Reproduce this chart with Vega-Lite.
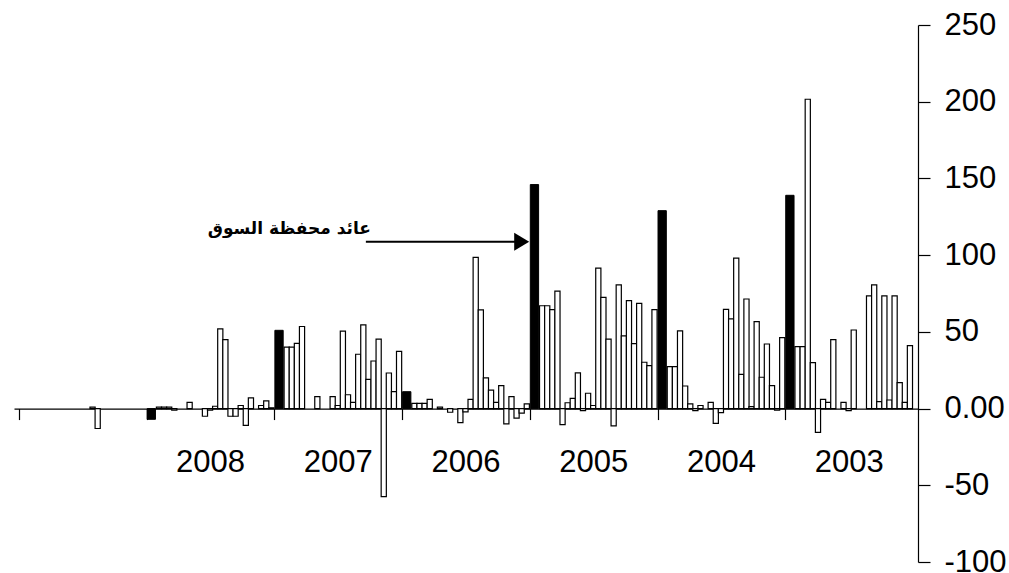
{
  "$schema": "https://vega.github.io/schema/vega-lite/v6.json",
  "autosize": {"type": "none"},
  "width": 904,
  "height": 537,
  "padding": {"left": 14, "top": 25, "right": 91, "bottom": 11},
  "background": "white",
  "config": {
    "view": {"stroke": null},
    "axisX": {"title": null, "grid": false, "labels": false, "offset": -153.43, "tickSize": 11, "domainColor": "black", "tickColor": "black", "domainWidth": 1.2, "tickWidth": 1.2},
    "axisY": {"title": null, "grid": false, "tickSize": 12, "labelPadding": 14, "labelFontSize": 31, "labelFont": "Liberation Sans", "labelColor": "black", "domainColor": "black", "tickColor": "black", "domainWidth": 1.2, "tickWidth": 1.2}
  },
  "datasets": {
    "bars": [
      {"year": "2009", "type": "stock", "i": 14, "r": 1},
      {"year": "2009", "type": "stock", "i": 15, "r": -13},
      {"year": "2008", "type": "market", "i": 25.5, "r": -7},
      {"year": "2008", "type": "stock", "i": 27, "r": 1},
      {"year": "2008", "type": "stock", "i": 28, "r": 1},
      {"year": "2008", "type": "stock", "i": 29, "r": 1},
      {"year": "2008", "type": "stock", "i": 30, "r": -1},
      {"year": "2008", "type": "stock", "i": 33, "r": 4},
      {"year": "2008", "type": "stock", "i": 36, "r": -5},
      {"year": "2008", "type": "stock", "i": 37, "r": -1},
      {"year": "2008", "type": "stock", "i": 38, "r": 1.5},
      {"year": "2008", "type": "stock", "i": 39, "r": 52},
      {"year": "2008", "type": "stock", "i": 40, "r": 45},
      {"year": "2008", "type": "stock", "i": 41, "r": -5},
      {"year": "2008", "type": "stock", "i": 42, "r": -5},
      {"year": "2008", "type": "stock", "i": 43, "r": 2},
      {"year": "2008", "type": "stock", "i": 44, "r": -11},
      {"year": "2008", "type": "stock", "i": 45, "r": 7},
      {"year": "2008", "type": "stock", "i": 47, "r": 2},
      {"year": "2008", "type": "stock", "i": 48, "r": 5},
      {"year": "2008", "type": "stock", "i": 49, "r": 0.5},
      {"year": "2007", "type": "market", "i": 50.5, "r": 51},
      {"year": "2007", "type": "stock", "i": 52, "r": 40},
      {"year": "2007", "type": "stock", "i": 53, "r": 40},
      {"year": "2007", "type": "stock", "i": 54, "r": 42.5},
      {"year": "2007", "type": "stock", "i": 55, "r": 53.5},
      {"year": "2007", "type": "stock", "i": 58, "r": 7.8},
      {"year": "2007", "type": "stock", "i": 61, "r": 7.8},
      {"year": "2007", "type": "stock", "i": 62, "r": 2},
      {"year": "2007", "type": "stock", "i": 63, "r": 50.5},
      {"year": "2007", "type": "stock", "i": 64, "r": 9},
      {"year": "2007", "type": "stock", "i": 65, "r": 4},
      {"year": "2007", "type": "stock", "i": 66, "r": 35.4},
      {"year": "2007", "type": "stock", "i": 67, "r": 54.5},
      {"year": "2007", "type": "stock", "i": 68, "r": 19},
      {"year": "2007", "type": "stock", "i": 69, "r": 31},
      {"year": "2007", "type": "stock", "i": 70, "r": 45.2},
      {"year": "2007", "type": "stock", "i": 71, "r": -57.4},
      {"year": "2007", "type": "stock", "i": 72, "r": 23.2},
      {"year": "2007", "type": "stock", "i": 73, "r": 11},
      {"year": "2007", "type": "stock", "i": 74, "r": 37.3},
      {"year": "2006", "type": "market", "i": 75.5, "r": 11},
      {"year": "2006", "type": "stock", "i": 77, "r": 3.4},
      {"year": "2006", "type": "stock", "i": 78, "r": 3.4},
      {"year": "2006", "type": "stock", "i": 79, "r": 3.4},
      {"year": "2006", "type": "stock", "i": 80, "r": 6},
      {"year": "2006", "type": "stock", "i": 82, "r": 1},
      {"year": "2006", "type": "stock", "i": 84, "r": -2.4},
      {"year": "2006", "type": "stock", "i": 86, "r": -9.2},
      {"year": "2006", "type": "stock", "i": 87, "r": -2.2},
      {"year": "2006", "type": "stock", "i": 88, "r": 6},
      {"year": "2006", "type": "stock", "i": 89, "r": 98.6},
      {"year": "2006", "type": "stock", "i": 90, "r": 64.3},
      {"year": "2006", "type": "stock", "i": 91, "r": 20},
      {"year": "2006", "type": "stock", "i": 92, "r": 12},
      {"year": "2006", "type": "stock", "i": 93, "r": 4},
      {"year": "2006", "type": "stock", "i": 94, "r": 15},
      {"year": "2006", "type": "stock", "i": 95, "r": -10},
      {"year": "2006", "type": "stock", "i": 96, "r": 7.8},
      {"year": "2006", "type": "stock", "i": 97, "r": -6.2},
      {"year": "2006", "type": "stock", "i": 98, "r": -3},
      {"year": "2006", "type": "stock", "i": 99, "r": 3},
      {"year": "2005", "type": "market", "i": 100.5, "r": 146},
      {"year": "2005", "type": "stock", "i": 102, "r": 67},
      {"year": "2005", "type": "stock", "i": 103, "r": 67},
      {"year": "2005", "type": "stock", "i": 104, "r": 64.5},
      {"year": "2005", "type": "stock", "i": 105, "r": 76.5},
      {"year": "2005", "type": "stock", "i": 106, "r": -10.5},
      {"year": "2005", "type": "stock", "i": 107, "r": 3.8},
      {"year": "2005", "type": "stock", "i": 108, "r": 6.7},
      {"year": "2005", "type": "stock", "i": 109, "r": 23.3},
      {"year": "2005", "type": "stock", "i": 110, "r": -1.4},
      {"year": "2005", "type": "stock", "i": 111, "r": 10},
      {"year": "2005", "type": "stock", "i": 112, "r": 2},
      {"year": "2005", "type": "stock", "i": 113, "r": 91.5},
      {"year": "2005", "type": "stock", "i": 114, "r": 72.5},
      {"year": "2005", "type": "stock", "i": 115, "r": 45.3},
      {"year": "2005", "type": "stock", "i": 116, "r": -11.3},
      {"year": "2005", "type": "stock", "i": 117, "r": 80.6},
      {"year": "2005", "type": "stock", "i": 118, "r": 47.4},
      {"year": "2005", "type": "stock", "i": 119, "r": 70.4},
      {"year": "2005", "type": "stock", "i": 120, "r": 42.3},
      {"year": "2005", "type": "stock", "i": 121, "r": 68.6},
      {"year": "2005", "type": "stock", "i": 122, "r": 30.2},
      {"year": "2005", "type": "stock", "i": 123, "r": 28},
      {"year": "2005", "type": "stock", "i": 124, "r": 64.5},
      {"year": "2004", "type": "market", "i": 125.5, "r": 129},
      {"year": "2004", "type": "stock", "i": 127, "r": 27.3},
      {"year": "2004", "type": "stock", "i": 128, "r": 27.3},
      {"year": "2004", "type": "stock", "i": 129, "r": 50.6},
      {"year": "2004", "type": "stock", "i": 130, "r": 14.7},
      {"year": "2004", "type": "stock", "i": 131, "r": 3},
      {"year": "2004", "type": "stock", "i": 132, "r": -1.3},
      {"year": "2004", "type": "stock", "i": 133, "r": 2},
      {"year": "2004", "type": "stock", "i": 135, "r": 4},
      {"year": "2004", "type": "stock", "i": 136, "r": -9.6},
      {"year": "2004", "type": "stock", "i": 137, "r": -2.6},
      {"year": "2004", "type": "stock", "i": 138, "r": 64.7},
      {"year": "2004", "type": "stock", "i": 139, "r": 58.4},
      {"year": "2004", "type": "stock", "i": 140, "r": 98},
      {"year": "2004", "type": "stock", "i": 141, "r": 22.3},
      {"year": "2004", "type": "stock", "i": 142, "r": 71.4},
      {"year": "2004", "type": "stock", "i": 143, "r": 1.3},
      {"year": "2004", "type": "stock", "i": 144, "r": 56.7},
      {"year": "2004", "type": "stock", "i": 145, "r": 20.4},
      {"year": "2004", "type": "stock", "i": 146, "r": 42.1},
      {"year": "2004", "type": "stock", "i": 147, "r": 15},
      {"year": "2004", "type": "stock", "i": 148, "r": -1},
      {"year": "2004", "type": "stock", "i": 149, "r": 46.2},
      {"year": "2003", "type": "market", "i": 150.5, "r": 139},
      {"year": "2003", "type": "stock", "i": 152, "r": 40.4},
      {"year": "2003", "type": "stock", "i": 153, "r": 40.4},
      {"year": "2003", "type": "stock", "i": 154, "r": 201.6},
      {"year": "2003", "type": "stock", "i": 155, "r": 30},
      {"year": "2003", "type": "stock", "i": 156, "r": -15.5},
      {"year": "2003", "type": "stock", "i": 157, "r": 6},
      {"year": "2003", "type": "stock", "i": 158, "r": 4},
      {"year": "2003", "type": "stock", "i": 159, "r": 45},
      {"year": "2003", "type": "stock", "i": 161, "r": 4},
      {"year": "2003", "type": "stock", "i": 162, "r": -1.4},
      {"year": "2003", "type": "stock", "i": 163, "r": 51.2},
      {"year": "2003", "type": "stock", "i": 166, "r": 73.4},
      {"year": "2003", "type": "stock", "i": 167, "r": 80.6},
      {"year": "2003", "type": "stock", "i": 168, "r": 4.5},
      {"year": "2003", "type": "stock", "i": 169, "r": 73.4},
      {"year": "2003", "type": "stock", "i": 170, "r": 5.6},
      {"year": "2003", "type": "stock", "i": 171, "r": 73.4},
      {"year": "2003", "type": "stock", "i": 172, "r": 16.9},
      {"year": "2003", "type": "stock", "i": 173, "r": 4},
      {"year": "2003", "type": "stock", "i": 174, "r": 41}
    ],
    "years": [
      {"year": "2008", "i": 37.1},
      {"year": "2007", "i": 62.1},
      {"year": "2006", "i": 87.1},
      {"year": "2005", "i": 112.1},
      {"year": "2004", "i": 137.1},
      {"year": "2003", "i": 162.1}
    ]
  },
  "layer": [
    {
      "data": {"name": "bars"},
      "transform": [{"filter": "datum.type === 'stock'"}],
      "mark": {"type": "bar", "fill": "white", "stroke": "black", "strokeWidth": 1.2, "width": 5.17},
      "encoding": {
        "x": {"field": "i", "type": "quantitative", "scale": {"domain": [-0.4, 174.6], "nice": false, "zero": false},
              "axis": {"values": [-0.4, 24.6, 49.6, 74.6, 99.6, 124.6, 149.6]}},
        "y": {"field": "r", "type": "quantitative", "scale": {"domain": [-100, 250], "nice": false},
              "axis": {"orient": "right", "values": [-100, -50, 0, 50, 100, 150, 200, 250],
                       "labelExpr": "datum.value === 0 ? '0.00' : '' + datum.value"}}
      }
    },
    {
      "data": {"name": "bars"},
      "transform": [{"filter": "datum.type === 'market'"}],
      "mark": {"type": "bar", "fill": "black", "stroke": "black", "strokeWidth": 1, "width": 8.3},
      "encoding": {
        "x": {"field": "i", "type": "quantitative"},
        "y": {"field": "r", "type": "quantitative"}
      }
    },
    {
      "data": {"name": "years"},
      "mark": {"type": "text", "font": "Liberation Sans", "fontSize": 31, "color": "black", "align": "center", "baseline": "alphabetic"},
      "encoding": {
        "x": {"field": "i", "type": "quantitative"},
        "y": {"datum": -41.2},
        "text": {"field": "year"}
      }
    },
    {
      "data": {"values": [{"label": "عائد محفظة السوق"}]},
      "layer": [
        {
          "mark": {"type": "rule", "color": "black", "strokeWidth": 2},
          "encoding": {
            "x": {"datum": 67.5},
            "x2": {"datum": 97.0},
            "y": {"datum": 108.8}
          }
        },
        {
          "mark": {"type": "point", "shape": "M-1,-1.2L1,0L-1,1.2Z", "size": 225, "filled": true, "color": "black", "opacity": 1},
          "encoding": {
            "x": {"datum": 98.0},
            "y": {"datum": 108.8}
          }
        },
        {
          "mark": {"type": "text", "font": "DejaVu Sans", "fontWeight": "bold", "fontSize": 17, "color": "black", "align": "right", "baseline": "middle"},
          "encoding": {
            "x": {"datum": 68.5},
            "y": {"datum": 117},
            "text": {"field": "label"}
          }
        }
      ]
    }
  ]
}
